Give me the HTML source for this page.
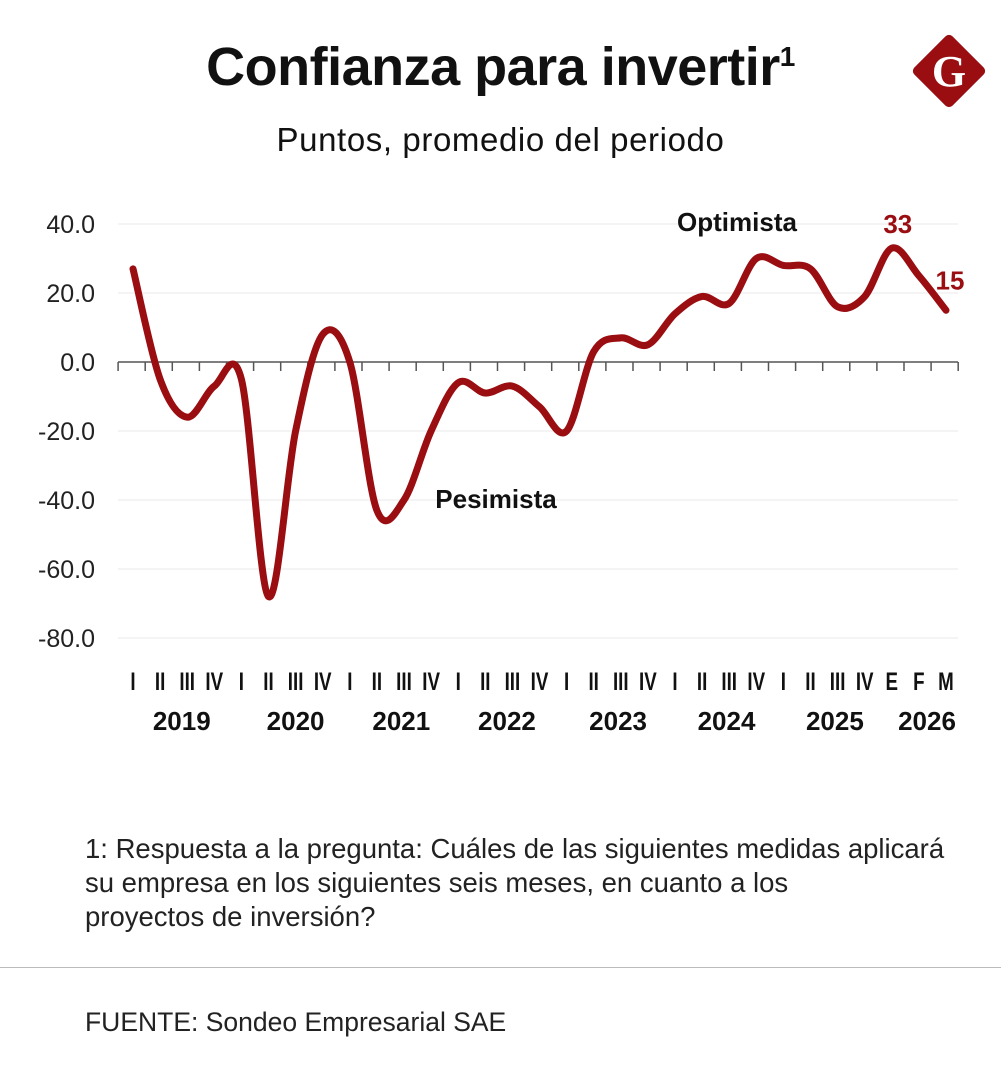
<!DOCTYPE html>
<html><head><meta charset="utf-8"><style>
body{margin:0;background:#fff;font-family:"Liberation Sans",sans-serif;}
#wrap{position:relative;width:1001px;height:1078px;overflow:hidden;}
.t{position:absolute;white-space:nowrap;color:#111;}
</style></head><body>
<div id="wrap">
<div class="t" style="left:0;width:1001px;text-align:center;top:36px;font-size:54px;font-weight:bold;letter-spacing:-0.5px;">Confianza para invertir<sup style="font-size:28px;">1</sup></div>
<div class="t" style="left:0;width:1001px;text-align:center;top:121px;font-size:33px;letter-spacing:0.6px;">Puntos, promedio del periodo</div>
<svg style="position:absolute;left:905px;top:27px" width="88" height="88" viewBox="0 0 88 88">
<rect x="17" y="17" width="54" height="54" rx="5" transform="rotate(45 44 44)" fill="#9a0d10"/>
<text x="44" y="59" text-anchor="middle" font-family="Liberation Serif,serif" font-weight="bold" font-size="44" fill="#fff">G</text>
</svg>
<svg id="chart" style="position:absolute;left:0;top:0" width="1001" height="760"></svg>
<div class="t" style="left:85px;top:832px;font-size:27.5px;line-height:34px;color:#222;">1: Respuesta a la pregunta: Cuáles de las siguientes medidas aplicará<br>su empresa en los siguientes seis meses, en cuanto a los<br>proyectos de inversión?</div>
<div style="position:absolute;left:0;top:967px;width:1001px;height:1px;background:#bbb;"></div>
<div class="t" style="left:85px;top:1007px;font-size:26.5px;color:#222;">FUENTE: Sondeo Empresarial SAE</div>
</div>
<script>
const quarterLabels=["I","II","III","IV","I","II","III","IV","I","II","III","IV","I","II","III","IV","I","II","III","IV","I","II","III","IV","I","II","III","IV","E","F","M"];
const values=[27,-5,-16,-7,-5,-68,-20,8,0,-43,-40,-20,-6,-9,-7,-13,-20,3,7,5,14,19,17,30,28,27,16,19,33,25,15];
const yTicks=[40,20,0,-20,-40,-60,-80];
const yTickLabels=["40.0","20.0","0.0","-20.0","-40.0","-60.0","-80.0"];
const years=["2019","2020","2021","2022","2023","2024","2025","2026"];
const yearCenterIdx=[1.8,6.0,9.9,13.8,17.9,21.9,25.9,29.3];
const svg=document.getElementById('chart');const NS='http://www.w3.org/2000/svg';
const x=i=>133+i*(946-133)/(values.length-1);
const y=v=>362-v*3.45;
function mk(t,a){const e=document.createElementNS(NS,t);for(const k in a)e.setAttribute(k,a[k]);svg.appendChild(e);return e;}
yTicks.forEach((v,i)=>{
 if(v!==0){const g=mk('line',{x1:118,x2:958,y1:y(v),y2:y(v),stroke:'#e8e8e8','stroke-width':1});
 
 }
 const t=mk('text',{x:95,y:y(v)+9,'text-anchor':'end','font-size':25,fill:'#222','font-family':'Liberation Sans,sans-serif'});t.textContent=yTickLabels[i];
 
 
});
const ax=mk('line',{x1:118,x2:958,y1:y(0),y2:y(0),stroke:'#555','stroke-width':1.5});


for(let i=0;i<=values.length;i++){const tk=mk('line',{x1:x(i-0.55),x2:x(i-0.55),y1:y(0),y2:y(0)+9,stroke:'#555','stroke-width':1.5});
 
 }
quarterLabels.forEach((l,i)=>{const t=mk('text',{x:x(i),y:690,'text-anchor':'middle','font-size':25,'font-weight':'bold',fill:'#111','font-family':'Liberation Sans,sans-serif',transform:`translate(${x(i)},0) scale(0.75,1) translate(${-x(i)},0)`});t.textContent=l;
 
 });
years.forEach((l,i)=>{const t=mk('text',{x:x(yearCenterIdx[i]),y:730,'text-anchor':'middle','font-size':26,'font-weight':'bold',fill:'#111','font-family':'Liberation Sans,sans-serif'});t.textContent=l;
 
 });
const P=values.map((v,i)=>[x(i),y(v)]);
let d=`M${P[0][0]},${P[0][1]}`;
for(let i=0;i<P.length-1;i++){const p0=P[Math.max(0,i-1)],p1=P[i],p2=P[i+1],p3=P[Math.min(P.length-1,i+2)];
 d+=` C${p1[0]+(p2[0]-p0[0])/6},${p1[1]+(p2[1]-p0[1])/6} ${p2[0]-(p3[0]-p1[0])/6},${p2[1]-(p3[1]-p1[1])/6} ${p2[0]},${p2[1]}`;}
const ln=mk('path',{d:d,fill:'none',stroke:'#9a0d10','stroke-width':7,'stroke-linecap':'round','stroke-linejoin':'round'});


function lab(txt,xx,yy,col,name,anchor){const t=mk('text',{x:xx,y:yy,'text-anchor':anchor||'middle','font-size':26,'font-weight':'bold',fill:col,'font-family':'Liberation Sans,sans-serif'});t.textContent=txt;
 
 }
lab('Optimista',737,231,'#111','optimista-label');
lab('Pesimista',496,508,'#111','pesimista-label');
lab(String(values[28]),x(28)+6,y(values[28])-15,'#9a0d10','peak-value-label');
lab(String(values[30]),x(30)+4,y(values[30])-21,'#9a0d10','last-value-label');
</script>
</body></html>
